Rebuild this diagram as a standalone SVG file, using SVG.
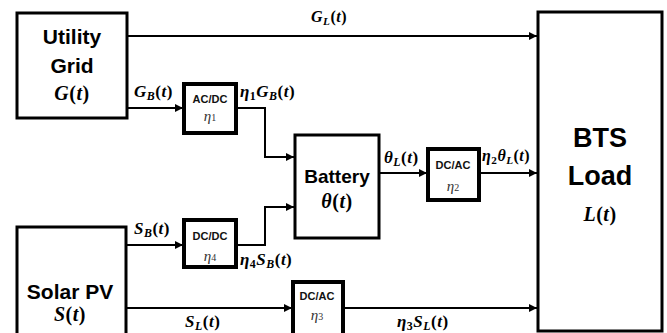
<svg xmlns="http://www.w3.org/2000/svg" width="667" height="333" viewBox="0 0 667 333">
<style>
.box{fill:#fff;stroke:#000;stroke-width:3}
.sbox{fill:#fff;stroke:#000;stroke-width:4}
.big{font-family:"Liberation Sans",Arial,sans-serif;font-weight:bold;fill:#000;text-anchor:middle}
.conv{font-family:"Liberation Sans",Arial,sans-serif;font-weight:bold;font-size:11px;fill:#111;text-anchor:middle}
.eta{font-family:"Liberation Serif","Times New Roman",serif;font-style:italic;font-size:15px;fill:#333;text-anchor:middle}
.m{font-family:"Liberation Serif","Times New Roman",serif;font-style:italic;font-weight:bold;fill:#000;letter-spacing:0.5px}
.up{font-style:normal}
.sub{font-size:70%}
.wire{fill:none;stroke:#000;stroke-width:2}
</style>
<defs>
<marker id="arr" viewBox="0 0 10 10" refX="10" refY="5" markerWidth="4" markerHeight="4" orient="auto" markerUnits="strokeWidth">
<path d="M0,0 L10,5 L0,10 z" fill="#000"/>
</marker>
</defs>
<rect width="667" height="333" fill="#fff"/>
<g id="connectors">
<path class="wire" d="M127,36 H537" marker-end="url(#arr)"/>
<path class="wire" d="M127,108 H183" marker-end="url(#arr)"/>
<path class="wire" d="M236,108 H265 V157 H294" marker-end="url(#arr)"/>
<path class="wire" d="M236,245 H265 V207 H294" marker-end="url(#arr)"/>
<path class="wire" d="M126,245 H183" marker-end="url(#arr)"/>
<path class="wire" d="M126,308 H292" marker-end="url(#arr)"/>
<path class="wire" d="M379,173 H427" marker-end="url(#arr)"/>
<path class="wire" d="M479,173 H537" marker-end="url(#arr)"/>
<path class="wire" d="M343,308 H537" marker-end="url(#arr)"/>
</g>
<g id="grid">
<rect class="box" x="17" y="13" width="110" height="105"/>
<text class="big" x="72" y="44" font-size="21">Utility</text>
<text class="big" x="72" y="73" font-size="21">Grid</text>
<text class="m" x="72" y="100" font-size="20" text-anchor="middle">G<tspan class="up">(</tspan>t<tspan class="up">)</tspan></text>
</g>
<g id="solar">
<rect class="box" x="17" y="227" width="109" height="120"/>
<text class="big" x="70" y="299" font-size="21">Solar PV</text>
<text class="m" x="70" y="321" font-size="20" text-anchor="middle">S<tspan class="up">(</tspan>t<tspan class="up">)</tspan></text>
</g>
<g id="battery">
<rect class="box" x="295" y="135" width="84" height="103"/>
<text class="big" x="337" y="183" font-size="19">Battery</text>
<text class="m" x="337" y="208" font-size="20" text-anchor="middle">θ<tspan class="up">(</tspan>t<tspan class="up">)</tspan></text>
</g>
<g id="bts">
<rect class="box" x="538" y="12" width="124" height="319"/>
<text class="big" x="600" y="147" font-size="27">BTS</text>
<text class="big" x="600" y="185" font-size="27">Load</text>
<text class="m" x="600" y="221" font-size="20" text-anchor="middle">L<tspan class="up">(</tspan>t<tspan class="up">)</tspan></text>
</g>
<g id="acdc1">
<rect class="sbox" x="184" y="84" width="52" height="49"/>
<text class="conv" x="210" y="103">AC/DC</text>
<text class="eta" x="210" y="121">η<tspan class="up" font-size="10">1</tspan></text>
</g>
<g id="dcdc4">
<rect class="sbox" x="184" y="220" width="52" height="47"/>
<text class="conv" x="210" y="240">DC/DC</text>
<text class="eta" x="210" y="261">η<tspan class="up" font-size="10">4</tspan></text>
</g>
<g id="dcac2">
<rect class="sbox" x="428" y="149" width="51" height="51"/>
<text class="conv" x="453" y="169">DC/AC</text>
<text class="eta" x="453" y="191">η<tspan class="up" font-size="10">2</tspan></text>
</g>
<g id="dcac3">
<rect class="sbox" x="293" y="282" width="50" height="60"/>
<text class="conv" x="317" y="300">DC/AC</text>
<text class="eta" x="317" y="320">η<tspan class="up" font-size="10">3</tspan></text>
</g>
<g id="labels">
<text class="m" x="311" y="22" font-size="16">G<tspan class="sub" dy="3">L</tspan><tspan class="up" dy="-3">(</tspan>t<tspan class="up">)</tspan></text>
<text class="m" x="134" y="97" font-size="17">G<tspan class="sub" dy="3">B</tspan><tspan class="up" dy="-3">(</tspan>t<tspan class="up">)</tspan></text>
<text class="m" x="240" y="97" font-size="17">η<tspan class="sub up" dy="3">1</tspan><tspan dy="-3">G</tspan><tspan class="sub" dy="3">B</tspan><tspan class="up" dy="-3">(</tspan>t<tspan class="up">)</tspan></text>
<text class="m" x="384" y="163" font-size="17">θ<tspan class="sub" dy="3">L</tspan><tspan class="up" dy="-3">(</tspan>t<tspan class="up">)</tspan></text>
<text class="m" x="482" y="161" font-size="16">η<tspan class="sub up" dy="3">2</tspan><tspan dy="-3">θ</tspan><tspan class="sub" dy="3">L</tspan><tspan class="up" dy="-3">(</tspan>t<tspan class="up">)</tspan></text>
<text class="m" x="134" y="234" font-size="17">S<tspan class="sub" dy="3">B</tspan><tspan class="up" dy="-3">(</tspan>t<tspan class="up">)</tspan></text>
<text class="m" x="240" y="265" font-size="17">η<tspan class="sub up" dy="3">4</tspan><tspan dy="-3">S</tspan><tspan class="sub" dy="3">B</tspan><tspan class="up" dy="-3">(</tspan>t<tspan class="up">)</tspan></text>
<text class="m" x="185" y="327" font-size="17">S<tspan class="sub" dy="3">L</tspan><tspan class="up" dy="-3">(</tspan>t<tspan class="up">)</tspan></text>
<text class="m" x="397" y="327" font-size="17">η<tspan class="sub up" dy="3">3</tspan><tspan dy="-3">S</tspan><tspan class="sub" dy="3">L</tspan><tspan class="up" dy="-3">(</tspan>t<tspan class="up">)</tspan></text>
</g>
</svg>
